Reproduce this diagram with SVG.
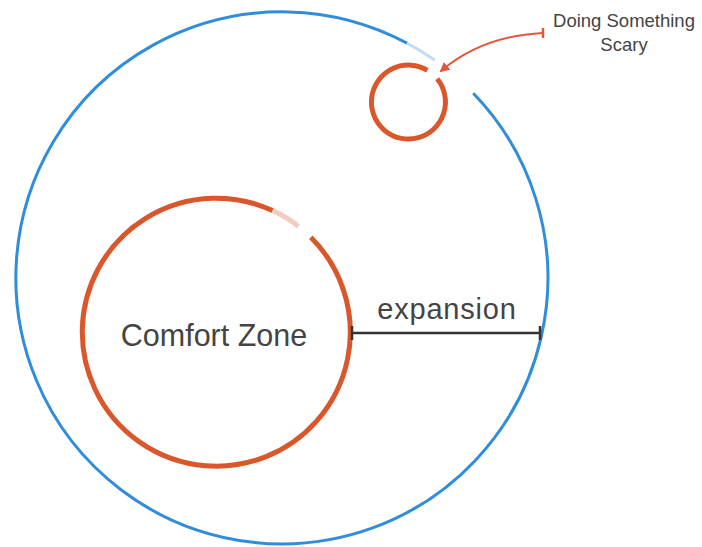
<svg xmlns="http://www.w3.org/2000/svg" width="702" height="547" viewBox="0 0 702 547">
<defs>
<style>
.blue{fill:none;stroke:#2f8ddc;stroke-width:3}
.orange{fill:none;stroke:#d9572a;stroke-width:5}
.txt{font-family:"Liberation Sans",Arial,sans-serif;fill:#444}
</style>
<marker id="ah" markerWidth="10" markerHeight="10" refX="8" refY="5" orient="auto" markerUnits="userSpaceOnUse">
<path d="M0,0 L10,5 L0,10 Z" fill="#e0573c"/>
</marker>
</defs>
<rect width="702" height="547" fill="#fff"/>
<g id="outer">
<path class="blue" d="M473.3,93.2 A266,266 0 1 1 406.9,43.1"/>
<path class="blue" d="M406.9,43.1 A266,266 0 0 1 434.6,60.1" stroke-width="1.2" opacity="0.3"/>
</g>
<g id="comfort">
<path class="orange" d="M310.8,237.2 A134,134 0 1 1 272.6,210.6"/>
<path class="orange" d="M272.6,210.6 A134,134 0 0 1 298.5,226.4" stroke-width="1.5" opacity="0.3"/>
<text class="txt" x="214" y="346" font-size="30.5" text-anchor="middle">Comfort Zone</text>
</g>
<g id="scary">
<path class="orange" d="M437.2,78.8 A37,37 0 1 1 427.4,70.3"/>
</g>
<g id="label">
<text class="txt" x="624" y="27" font-size="18.5" text-anchor="middle">Doing Something</text>
<text class="txt" x="624" y="51" font-size="18.5" text-anchor="middle">Scary</text>
</g>
<g id="connectors">
<path d="M543,33 Q482,36 441,71" fill="none" stroke="#e0573c" stroke-width="2" marker-end="url(#ah)"/>
<line x1="543" y1="28" x2="543" y2="38" stroke="#e0573c" stroke-width="2.5"/>
<line x1="352" y1="333" x2="540" y2="333" stroke="#333" stroke-width="2.5"/>
<line x1="352" y1="326" x2="352" y2="340" stroke="#333" stroke-width="2.5"/>
<line x1="540" y1="326" x2="540" y2="340" stroke="#333" stroke-width="2.5"/>
<text class="txt" x="447" y="319" font-size="29" letter-spacing="0.8" text-anchor="middle">expansion</text>
</g>
</svg>
